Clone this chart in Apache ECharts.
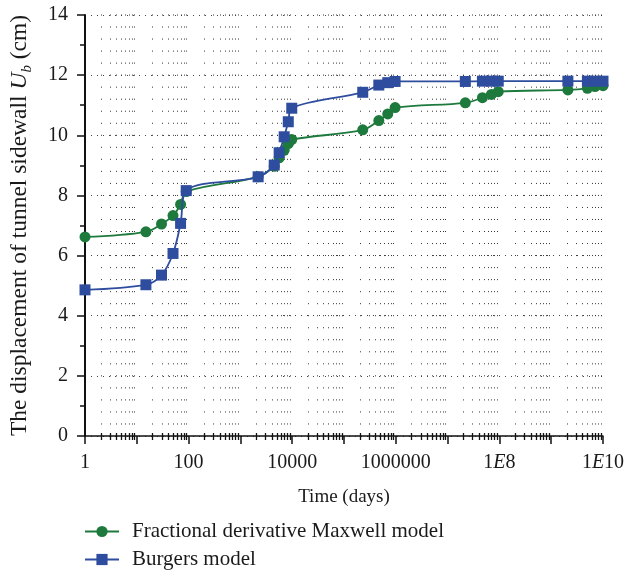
<!DOCTYPE html>
<html>
<head>
<meta charset="utf-8">
<script src="https://cdn.jsdelivr.net/npm/echarts@6/dist/echarts.min.js"></script>
<style>
html,body{margin:0;padding:0;background:#fff;}
#chart{width:638px;height:572px;}
</style>
</head>
<body>
<div id="chart"></div>
<script>
// Time in days (log axis, 1 .. 1E10)
const timeDays = [1, 15, 30, 50, 70, 90, 2200, 4500, 5600, 7000, 8400, 9800,
  230000, 470000, 700000, 970000, 2.2e7, 4.7e7, 7e7, 9.5e7, 2.1e9, 5e9, 7e9, 1e10];
// Displacement of tunnel sidewall Ub (cm)
const maxwellU = [6.62, 6.79, 7.05, 7.33, 7.70, 8.13, 8.62, 8.97, 9.25, 9.50, 9.72, 9.86,
  10.18, 10.49, 10.71, 10.92, 11.08, 11.25, 11.36, 11.45, 11.51, 11.56, 11.62, 11.65];
const burgersU = [4.86, 5.03, 5.35, 6.07, 7.07, 8.16, 8.62, 9.01, 9.42, 9.95, 10.45, 10.90,
  11.43, 11.67, 11.75, 11.79, 11.79, 11.80, 11.80, 11.80, 11.80, 11.80, 11.80, 11.80];
const seriesNames = ['Fractional derivative Maxwell model', 'Burgers model'];
// x tick labels at exponents 0,2,...,10
const xTickExps = [0, 2, 4, 6, 8, 10];
const xTickLabels = ['1', '100', '10000', '1000000', '1{e|E}8', '1{e|E}10'];
const yMin = 0, yMax = 14, yStep = 2;
const xMinExp = 0, xMaxExp = 10;

const FONT = '"Liberation Serif", "DejaVu Serif", serif';
const GREEN = '#1d7a3c';
const BLUE = '#2f4d9f';
const TXT = '#1a1a1a';

// log-minor positions (2..9 within each decade)
const minorPos = [];
for (let d = xMinExp; d < xMaxExp; d++) {
  for (let m = 2; m <= 9; m++) minorPos.push([Math.log10(m * Math.pow(10, d)), 0]);
}

function legendFor(name, top) {
  return {
    orient: 'vertical', left: 79, top: top,
    itemWidth: 34, itemHeight: 14, itemGap: 0,
    data: [name],
    textStyle: {fontFamily: FONT, fontSize: 21, color: TXT, padding: [0, 0, 0, 8]}
  };
}

const chart = echarts.init(document.getElementById('chart'), null, {renderer: 'canvas'});
chart.setOption({
  animation: false,
  backgroundColor: '#fff',
  grid: {left: 85, right: 35, top: 15, bottom: 136, containLabel: false, outerBoundsMode: 'none'},
  legend: [legendFor(seriesNames[0], 516), legendFor(seriesNames[1], 544)],
  xAxis: {
    type: 'value', min: xMinExp, max: xMaxExp, interval: 1,
    name: 'Time (days)', nameLocation: 'middle', nameGap: 52,
    nameTextStyle: {fontFamily: FONT, fontSize: 19, color: TXT},
    axisLine: {show: true, lineStyle: {color: '#111', width: 1.5}},
    axisTick: {show: true, inside: false, length: 8, lineStyle: {color: '#111', width: 1.5}},
    axisLabel: {
      margin: 17, fontFamily: FONT, fontSize: 20, color: TXT,
      formatter: function (v) {
        const i = xTickExps.indexOf(Math.round(v));
        return (i >= 0 && Math.abs(v - Math.round(v)) < 1e-9) ? xTickLabels[i] : '';
      },
      rich: {e: {fontFamily: FONT, fontSize: 20, fontStyle: 'italic', color: TXT}}
    },
    splitLine: {show: false}
  },
  yAxis: {
    type: 'value', min: yMin, max: yMax, interval: yStep,
    name: 'The displacement of tunnel sidewall {u|U}{b|b} (cm)',
    nameLocation: 'middle', nameRotate: 90, nameGap: 50,
    nameTextStyle: {
      fontFamily: FONT, fontSize: 23.5, color: TXT, lineHeight: 30,
      rich: {
        u: {fontFamily: FONT, fontSize: 23.5, fontStyle: 'italic', color: TXT, lineHeight: 30},
        b: {fontFamily: FONT, fontSize: 15, fontStyle: 'italic', color: TXT, lineHeight: 15, verticalAlign: 'bottom'}
      }
    },
    axisLine: {show: true, lineStyle: {color: '#111', width: 2}},
    axisTick: {show: true, inside: false, length: 8, lineStyle: {color: '#111', width: 1.5}},
    minorTick: {show: true, splitNumber: 2, length: 5, lineStyle: {color: '#111', width: 1.5}},
    axisLabel: {margin: 17, fontFamily: FONT, fontSize: 20, color: TXT},
    splitLine: {show: true, lineStyle: {color: '#444', width: 1, type: [1, 5]}}
  },
  series: [
    {
      type: 'custom', name: 'grid', silent: true, z: 1,
      coordinateSystem: 'cartesian2d', clip: false,
      encode: {x: 0, y: 1},
      data: minorPos,
      renderItem: function (params, api) {
        const v = api.value(0);
        const top = api.coord([v, yMax]);
        const bot = api.coord([v, yMin]);
        const x = Math.round(top[0]) + 0.5;
        const step = (bot[1] - top[1]) / 35;
        return {
          type: 'group',
          children: [
            {type: 'line', shape: {x1: x, y1: top[1] - 0.5, x2: x, y2: bot[1] + 0.5},
              style: {stroke: '#333', lineWidth: 1, lineDash: [1, step - 1]}},
            {type: 'line', shape: {x1: x, y1: bot[1] - 3, x2: x, y2: bot[1] + 4},
              style: {stroke: '#111', lineWidth: 1.3}}
          ]
        };
      }
    },
    {
      name: seriesNames[0], type: 'line', z: 3,
      data: timeDays.map((t, i) => [Math.log10(t), maxwellU[i]]),
      smooth: 0.35,
      symbol: 'circle', symbolSize: 11,
      lineStyle: {color: GREEN, width: 1.8},
      itemStyle: {color: GREEN}
    },
    {
      name: seriesNames[1], type: 'line', z: 4,
      data: timeDays.map((t, i) => [Math.log10(t), burgersU[i]]),
      smooth: 0.35,
      symbol: 'rect', symbolSize: 11,
      lineStyle: {color: BLUE, width: 1.8},
      itemStyle: {color: BLUE}
    }
  ]
});
</script>
</body>
</html>
